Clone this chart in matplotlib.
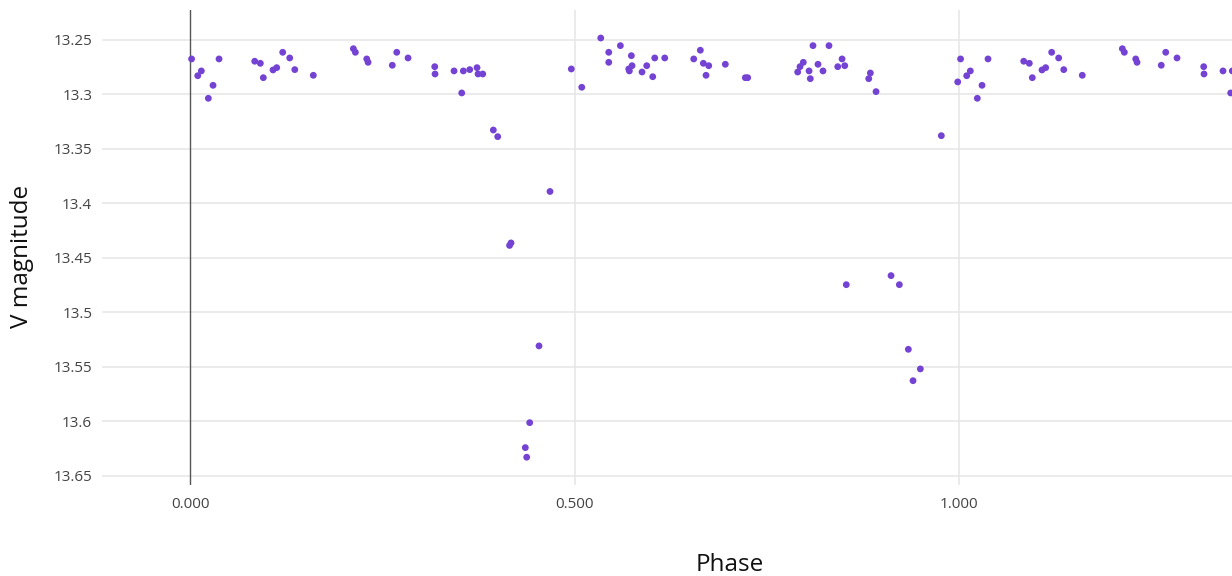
import matplotlib
matplotlib.use("Agg")
import matplotlib.pyplot as plt
import numpy as np

phase = [0.002, 0.010, 0.0147, 0.0238, 0.0299, 0.0377, 0.0841, 0.0914, 0.0953, 0.1079,
         0.1127, 0.1205, 0.1296, 0.1362, 0.1603, 0.2124, 0.2150, 0.2298, 0.2315, 0.2630,
         0.2688, 0.2835, 0.3182, 0.3186, 0.3433, 0.3533, 0.3554, 0.3637, 0.3732, 0.3745,
         0.3806, 0.3944, 0.4001, 0.4155, 0.4174, 0.4360, 0.4378, 0.4417, 0.4538, 0.4681,
         0.4958, 0.5094, 0.5341, 0.5445, 0.5445, 0.5596, 0.5739, 0.5705, 0.5713, 0.5748,
         0.5878, 0.5939, 0.6017, 0.6043, 0.6173, 0.6550, 0.6636, 0.6675, 0.6745, 0.6710,
         0.6961, 0.7221, 0.7252, 0.7902, 0.7932, 0.7975, 0.8050, 0.8066, 0.8101, 0.8166,
         0.8231, 0.8309, 0.8423, 0.8479, 0.8514, 0.8534, 0.8826, 0.8847, 0.8921, 0.9116,
         0.9224, 0.9341, 0.9402, 0.9497, 0.9770, 0.9983]
vmag = [13.2674, 13.2828, 13.2784, 13.3035, 13.2916, 13.2674, 13.2695, 13.2714, 13.2846, 13.2775,
        13.2754, 13.2613, 13.2665, 13.2772, 13.2824, 13.2580, 13.2613, 13.2674, 13.2705, 13.2732,
        13.2613, 13.2665, 13.2745, 13.2812, 13.2784, 13.2986, 13.2784, 13.2772, 13.2754, 13.2812,
        13.2812, 13.3326, 13.3387, 13.4385, 13.4362, 13.6240, 13.6328, 13.6011, 13.5307, 13.3890,
        13.2766, 13.2934, 13.2482, 13.2613, 13.2705, 13.2552, 13.2644, 13.2766, 13.2784, 13.2736,
        13.2794, 13.2736, 13.2837, 13.2665, 13.2665, 13.2674, 13.2594, 13.2714, 13.2736, 13.2824,
        13.2723, 13.2846, 13.2846, 13.2794, 13.2745, 13.2705, 13.2784, 13.2855, 13.2552, 13.2723,
        13.2784, 13.2552, 13.2745, 13.2674, 13.2736, 13.4745, 13.2855, 13.2803, 13.2974, 13.4662,
        13.4745, 13.5338, 13.5626, 13.5518, 13.3378, 13.2885]

x_ticks = [0.0, 0.5, 1.0]
x_ticklabels = ["0.000", "0.500", "1.000"]
y_ticks = [13.25, 13.3, 13.35, 13.4, 13.45, 13.5, 13.55, 13.6, 13.65]
y_ticklabels = ["13.25", "13.3", "13.35", "13.4", "13.45", "13.5", "13.55", "13.6", "13.65"]

XMIN, XMAX = -0.1145, 1.355
YTOP, YBOT = 13.2225, 13.6583

ph = np.array(phase)
mg = np.array(vmag)
# folded light curve: repeat the cycle shifted by one phase unit
ph_all = np.concatenate([ph, ph + 1.0])
mg_all = np.concatenate([mg, mg])
keep = ph_all <= XMAX + 0.01
ph_all, mg_all = ph_all[keep], mg_all[keep]

W, H = 1232, 576
fig = plt.figure(figsize=(W / 100, H / 100), dpi=100)
left, right, top, bottom = 102, 1232, 10, 485
ax = fig.add_axes([left / W, 1 - bottom / H, (right - left) / W, (bottom - top) / H])

ax.set_xlim(XMIN, XMAX)
ax.set_ylim(YBOT, YTOP)
for s in ax.spines.values():
    s.set_visible(False)

for yv in y_ticks:
    ax.axhline(yv, color="#e6e6e6", lw=1.1, zorder=0)
for xv in x_ticks:
    if xv == 0:
        ax.axvline(xv, color="#555555", lw=1.0, zorder=1)
    else:
        ax.axvline(xv, color="#e6e6e6", lw=1.1, zorder=0)

ax.scatter(ph_all, mg_all, s=24, color="#7443d3", edgecolors="none", zorder=3)

ax.set_xticks(x_ticks)
ax.set_xticklabels(x_ticklabels)
ax.set_yticks(y_ticks)
ax.set_yticklabels(y_ticklabels)
ax.tick_params(length=0, labelsize=11, labelcolor="#444444")
for lab in ax.get_xticklabels() + ax.get_yticklabels():
    lab.set_fontfamily("Open Sans")
ax.tick_params(axis="x", pad=9)
ax.tick_params(axis="y", pad=7)

fig.text(730 / W, 1 - 565 / H, "Phase", ha="center", va="center",
         fontsize=17.5, family="Open Sans", color="#111111")
fig.text(22 / W, 1 - 256 / H, "V magnitude", ha="center", va="center",
         rotation=90, fontsize=17.5, family="Open Sans", color="#111111")

fig.savefig("out.png", dpi=100)
